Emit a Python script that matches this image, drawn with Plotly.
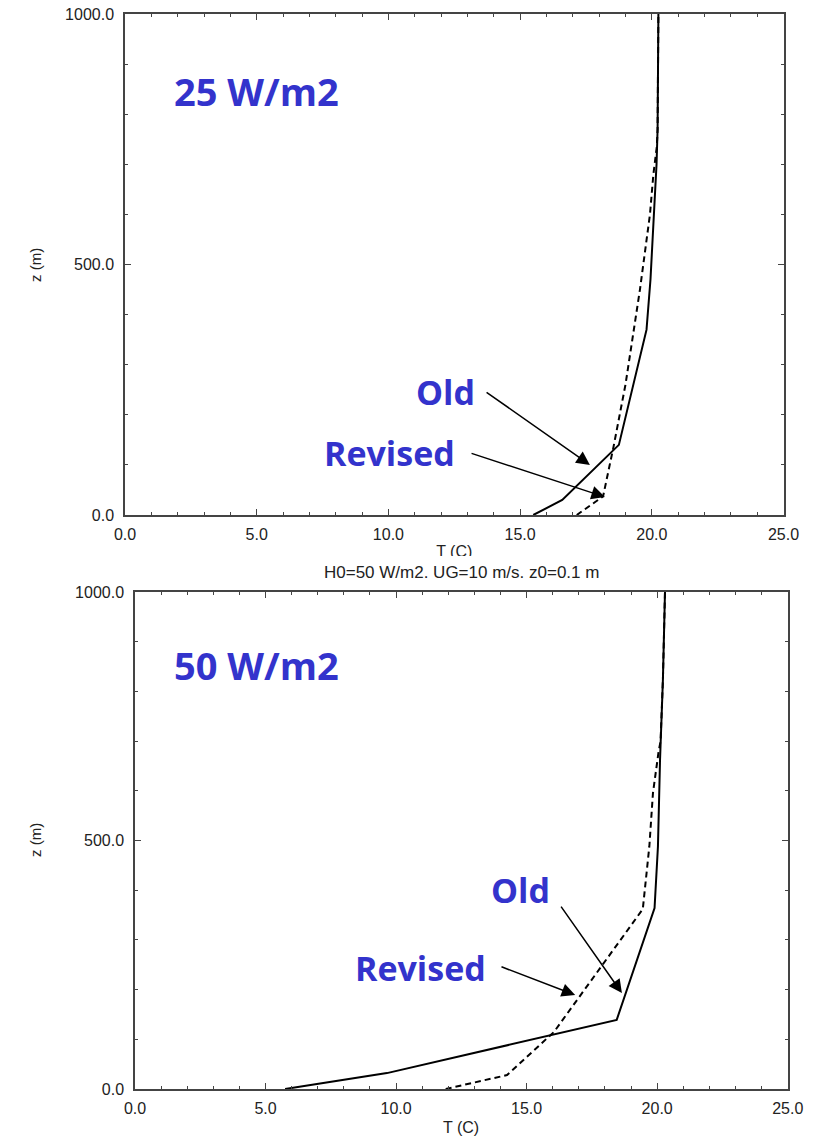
import plotly.graph_objects as go

# ---------------- data ----------------
# Top panel: surface heat flux 25 W/m2
top_old_T = [15.5, 16.6, 18.75, 19.8, 19.95, 20.05, 20.18, 20.22, 20.25]
top_old_z = [0, 30, 140, 370, 470, 570, 700, 770, 1000]
top_rev_T = [17.15, 18.15, 18.55, 19.0, 19.55, 19.93, 20.06, 20.19, 20.22, 20.25]
top_rev_z = [0, 37, 137, 260, 450, 600, 680, 735, 770, 1000]

# Bottom panel: surface heat flux 50 W/m2
bot_old_T = [5.75, 9.65, 18.45, 19.9, 20.03, 20.11, 20.22, 20.3]
bot_old_z = [0, 32, 139, 364, 488, 662, 823, 1000]
bot_rev_T = [11.9, 14.25, 16.05, 19.45, 19.7, 19.84, 20.05, 20.13, 20.22, 20.3]
bot_rev_z = [0, 28, 115, 362, 488, 596, 677, 700, 823, 1000]

x_ticks = [0, 5, 10, 15, 20, 25]
y_ticks = [0, 500, 1000]

panel_labels = ["25 W/m2", "50 W/m2"]
panel_label_pos = [(5.0, 846), (4.67, 853)]

# label text, text position (T, z), arrow tail (T, z), arrow tip (T, z)
top_callouts = [
    ("Old", (12.15, 245), (13.67, 247), (17.65, 100)),
    ("Revised", (10.06, 124), (13.1, 124), (18.22, 36)),
]
bot_callouts = [
    ("Old", (14.75, 400), (16.28, 370), (18.65, 193)),
    ("Revised", (10.92, 243), (13.98, 247), (16.86, 189)),
]

mid_title = "H0=50 W/m2. UG=10 m/s. z0=0.1 m"
x_title = "T (C)"
y_title = "z (m)"

BLUE = "rgb(51,51,204)"
TICKFONT = dict(family="Liberation Sans", size=16, color="#222")

fig = go.Figure()

line_kw = dict(color="black", width=2)
fig.add_trace(go.Scatter(x=top_old_T, y=top_old_z, mode="lines", line=line_kw,
                         xaxis="x", yaxis="y", showlegend=False))
fig.add_trace(go.Scatter(x=top_rev_T, y=top_rev_z, mode="lines",
                         line=dict(color="black", width=2, dash="6px,4px"),
                         xaxis="x", yaxis="y", showlegend=False))
fig.add_trace(go.Scatter(x=bot_old_T, y=bot_old_z, mode="lines", line=line_kw,
                         xaxis="x2", yaxis="y2", showlegend=False))
fig.add_trace(go.Scatter(x=bot_rev_T, y=bot_rev_z, mode="lines",
                         line=dict(color="black", width=2, dash="6px,4px"),
                         xaxis="x2", yaxis="y2", showlegend=False))

# Top panel's x title is cut off in the original: draw it as clipped text
fig.add_trace(go.Scatter(x=[0.5], y=[0.2], mode="text", text=[x_title],
                         textposition="middle center",
                         textfont=dict(family="Liberation Sans", size=16, color="#222"),
                         cliponaxis=True, xaxis="x3", yaxis="y3",
                         showlegend=False, hoverinfo="skip"))


def xaxis_style(domain):
    return dict(domain=domain, range=[0, 25], tickvals=x_ticks, tickformat=".1f",
                ticks="inside", ticklen=6, tickwidth=1.2, tickcolor="#444",
                showline=True, linecolor="#444", linewidth=1.5, mirror="ticks",
                showgrid=False, zeroline=False, tickfont=TICKFONT,
                ticklabelstandoff=4, automargin=False,
                minor=dict(dtick=1, ticks="inside", ticklen=3, tickwidth=1,
                           tickcolor="#444", showgrid=False))


def yaxis_style(domain):
    return dict(domain=domain, range=[0, 1000], tickvals=y_ticks, tickformat=".1f",
                ticks="inside", ticklen=6, tickwidth=1.2, tickcolor="#444",
                showline=True, linecolor="#444", linewidth=1.5, mirror="ticks",
                showgrid=False, zeroline=False, tickfont=TICKFONT,
                ticklabelstandoff=6, automargin=False,
                minor=dict(dtick=100, ticks="inside", ticklen=3, tickwidth=1,
                           tickcolor="#444", showgrid=False))


W, H = 822, 1138
top_x = [125 / W, 783.5 / W]
top_y = [1 - 515 / H, 1 - 14 / H]
bot_x = [135 / W, 787.7 / W]
bot_y = [1 - 1089 / H, 1 - 592 / H]

annotations = []
for (lbl, (lx, ly)), xr, yr in zip(zip(panel_labels, panel_label_pos), ["x", "x2"], ["y", "y2"]):
    annotations.append(dict(x=lx, y=ly, xref=xr, yref=yr, text="<b>%s</b>" % lbl,
                            showarrow=False,
                            font=dict(family="Open Sans", size=38, color=BLUE),
                            xanchor="center", yanchor="middle"))

for callouts, xr, yr in [(top_callouts, "x", "y"), (bot_callouts, "x2", "y2")]:
    for txt, (tx, tz), (ax, az), (hx, hz) in callouts:
        annotations.append(dict(x=tx, y=tz, xref=xr, yref=yr, text="<b>%s</b>" % txt,
                                showarrow=False,
                                font=dict(family="Open Sans", size=34, color=BLUE),
                                xanchor="center", yanchor="middle"))
        annotations.append(dict(x=hx, y=hz, ax=ax, ay=az, xref=xr, yref=yr,
                                axref=xr, ayref=yr, text="", showarrow=True,
                                arrowhead=2, arrowsize=1.8, arrowwidth=1.5,
                                arrowcolor="black", standoff=0, startstandoff=0))

annotations.append(dict(x=(bot_x[0] + bot_x[1]) / 2, y=1 - 572 / H, xref="paper", yref="paper",
                        text=mid_title, showarrow=False,
                        font=dict(family="Liberation Sans", size=17, color="#222"),
                        xanchor="center", yanchor="middle"))
annotations.append(dict(x=(bot_x[0] + bot_x[1]) / 2, y=1 - 1127 / H, xref="paper", yref="paper",
                        text=x_title, showarrow=False,
                        font=dict(family="Liberation Sans", size=16, color="#222"),
                        xanchor="center", yanchor="middle"))
for yc in [265, 840]:
    annotations.append(dict(x=35 / W, y=1 - yc / H, xref="paper", yref="paper",
                            text=y_title, showarrow=False, textangle=-90,
                            font=dict(family="Liberation Sans", size=15, color="#222"),
                            xanchor="center", yanchor="middle"))

fig.update_layout(
    width=W, height=H,
    margin=dict(l=0, r=0, t=0, b=0),
    paper_bgcolor="white", plot_bgcolor="white",
    xaxis=dict(xaxis_style(top_x), anchor="y"),
    yaxis=dict(yaxis_style(top_y), anchor="x"),
    xaxis2=dict(xaxis_style(bot_x), anchor="y2"),
    yaxis2=dict(yaxis_style(bot_y), anchor="x2"),
    xaxis3=dict(domain=[top_x[0], top_x[1]], range=[0, 1], visible=False, anchor="y3",
                fixedrange=True, automargin=False),
    yaxis3=dict(domain=[1 - 556 / H, 1 - 540 / H], range=[0, 1], visible=False, anchor="x3",
                fixedrange=True, automargin=False),
    annotations=annotations,
    showlegend=False,
)

fig.write_html("out.html")
